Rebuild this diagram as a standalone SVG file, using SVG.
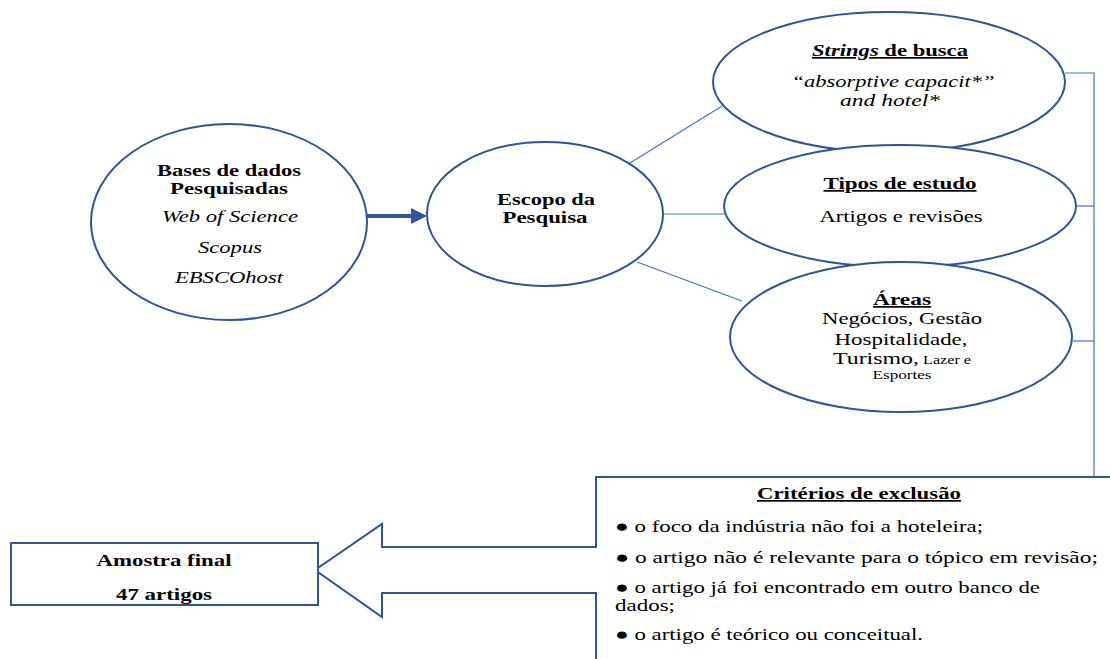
<svg xmlns="http://www.w3.org/2000/svg" width="1110" height="659" viewBox="0 0 1110 659">
<style>
.node{fill:#fff;stroke:#2F5597;stroke-width:2}
.conn{fill:none;stroke:#4472C4;stroke-width:1.2}
text{font-family:'Liberation Serif','Times New Roman',serif;fill:#000;text-anchor:middle}
.b{font-weight:bold;font-size:17px}
.i{font-style:italic;font-size:17px}
.r{font-size:17px}
.u{text-decoration:underline}
.l{text-anchor:start;font-size:17px}
</style>
<defs>
<marker id="ah" markerWidth="4" markerHeight="4" refX="2" refY="2" orient="auto" markerUnits="strokeWidth">
<path d="M0,0 L4,2 L0,4 Z" fill="#2F5597"/>
</marker>
</defs>
<rect width="1110" height="659" fill="#fff"/>
<g id="connectors">
<line class="conn" x1="630" y1="163" x2="722" y2="106"/>
<line class="conn" x1="663" y1="214" x2="726" y2="214"/>
<line class="conn" x1="637" y1="262" x2="742" y2="301"/>
<polyline class="conn" points="1065,73 1094,73 1094,477"/>
<line class="conn" x1="1077" y1="206" x2="1094" y2="206"/>
<line class="conn" x1="1073" y1="341" x2="1094" y2="341"/>
<line x1="367" y1="216" x2="419" y2="216" stroke="#2F5597" stroke-width="4" marker-end="url(#ah)"/>
</g>
<g id="bases">
<ellipse class="node" cx="229" cy="222" rx="138" ry="98"/>
<text class="b" x="229" y="176" textLength="144" lengthAdjust="spacingAndGlyphs">Bases de dados</text>
<text class="b" x="229" y="194" textLength="118" lengthAdjust="spacingAndGlyphs">Pesquisadas</text>
<text class="i" x="230" y="222" textLength="136" lengthAdjust="spacingAndGlyphs">Web of Science</text>
<text class="i" x="230" y="253" textLength="64" lengthAdjust="spacingAndGlyphs">Scopus</text>
<text class="i" x="229" y="283" textLength="108" lengthAdjust="spacingAndGlyphs">EBSCOhost</text>
</g>
<g id="escopo">
<ellipse class="node" cx="545" cy="214" rx="118" ry="72"/>
<text class="b" x="546" y="205" font-size="15.5" textLength="98" lengthAdjust="spacingAndGlyphs">Escopo da</text>
<text class="b" x="545" y="223" font-size="15.5" textLength="85" lengthAdjust="spacingAndGlyphs">Pesquisa</text>
</g>
<g id="strings">
<ellipse class="node" cx="889" cy="82" rx="176" ry="70"/>
<text class="b u" x="890" y="56" textLength="156" lengthAdjust="spacingAndGlyphs"><tspan font-style="italic">Strings</tspan> de busca</text>
<text class="i" x="893" y="87" textLength="203" lengthAdjust="spacingAndGlyphs">“absorptive capacit*”</text>
<text class="i" x="890" y="106" textLength="100" lengthAdjust="spacingAndGlyphs">and hotel*</text>
</g>
<g id="tipos">
<ellipse class="node" cx="900" cy="206" rx="176" ry="61"/>
<text class="b u" x="900" y="189" textLength="153" lengthAdjust="spacingAndGlyphs">Tipos de estudo</text>
<text class="r" x="901" y="222" textLength="163" lengthAdjust="spacingAndGlyphs">Artigos e revisões</text>
</g>
<g id="areas">
<ellipse class="node" cx="901" cy="337" rx="171" ry="75"/>
<text class="b u" x="902" y="305" textLength="58" lengthAdjust="spacingAndGlyphs">Áreas</text>
<text class="r" x="902" y="324" textLength="160" lengthAdjust="spacingAndGlyphs">Negócios, Gestão</text>
<text class="r" x="901" y="345" textLength="133" lengthAdjust="spacingAndGlyphs">Hospitalidade,</text>
<text class="r" x="902" y="364" textLength="138" lengthAdjust="spacingAndGlyphs">Turismo,<tspan font-size="11.5"> Lazer e</tspan></text>
<text x="902" y="379" font-size="11.5" textLength="59" lengthAdjust="spacingAndGlyphs">Esportes</text>
</g>
<g id="criterios">
<path class="node" d="M596,659 L596,593 L382,593 L382,617 L315,570 L382,524 L382,547 L596,547 L596,477 L1112,477 L1112,661"/>
<text class="b u" x="859" y="499" textLength="204" lengthAdjust="spacingAndGlyphs">Critérios de exclusão</text>
<text class="l" x="615" y="532" textLength="368" lengthAdjust="spacingAndGlyphs">● o foco da indústria não foi a hoteleira;</text>
<text class="l" x="615" y="563" textLength="483" lengthAdjust="spacingAndGlyphs">● o artigo não é relevante para o tópico em revisão;</text>
<text class="l" x="615" y="593" textLength="425" lengthAdjust="spacingAndGlyphs">● o artigo já foi encontrado em outro banco de</text>
<text class="l" x="615" y="611" textLength="60" lengthAdjust="spacingAndGlyphs">dados;</text>
<text class="l" x="615" y="640" textLength="308" lengthAdjust="spacingAndGlyphs">● o artigo é teórico ou conceitual.</text>
</g>
<g id="amostra">
<rect class="node" x="11" y="543" width="307" height="62"/>
<text class="b" x="164" y="566" font-size="16" textLength="135" lengthAdjust="spacingAndGlyphs">Amostra final</text>
<text class="b" x="164" y="600" font-size="16" textLength="96" lengthAdjust="spacingAndGlyphs">47 artigos</text>
</g>
</svg>
